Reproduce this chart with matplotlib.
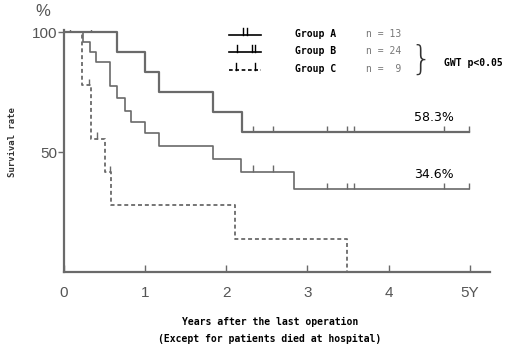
import matplotlib.pyplot as plt

# survival curves (years, %)
a_years = [0, 0.65, 1.0, 1.17, 1.84, 2.19, 4.99]
a_surv = [100, 91.7, 83.3, 75.0, 66.7, 58.3, 58.3]
a_cens_x = [0.07, 0.33, 2.33, 2.58, 3.24, 3.49, 3.58, 4.68, 4.99]
a_cens_y = [100, 100, 58.3, 58.3, 58.3, 58.3, 58.3, 58.3, 58.3]

b_years = [0, 0.24, 0.32, 0.40, 0.57, 0.65, 0.75, 0.83, 1.0, 1.17, 1.84, 2.18, 2.84, 4.99]
b_surv = [100, 95.8, 91.7, 87.5, 77.5, 72.5, 67.0, 62.5, 58.0, 52.5, 47.0, 41.8, 34.6, 34.6]
b_cens_x = [2.33, 2.58, 3.24, 3.49, 3.58, 4.68, 4.99]
b_cens_y = [41.8, 41.8, 34.6, 34.6, 34.6, 34.6, 34.6]

c_years = [0, 0.22, 0.33, 0.50, 0.58, 2.11, 3.49]
c_surv = [100, 77.8, 55.6, 41.7, 27.8, 13.9, 0]
c_cens_x = [0.31, 0.41, 0.57]
c_cens_y = [77.8, 55.6, 41.7]

groups = ["Group A", "Group B", "Group C"]
n_labels = ["n = 13", "n = 24", "n =  9"]
end_labels = ["58.3%", "34.6%"]

col = "#6a6a6a"
mono = "DejaVu Sans Mono"

fig = plt.figure(figsize=(5.15, 3.49), dpi=100)
ax = fig.add_axes([0.1243, 0.2206, 0.827, 0.693])

ax.step(a_years, a_surv, where="post", color=col, lw=1.6)
ax.step(b_years, b_surv, where="post", color=col, lw=1.2)
ax.step(c_years, c_surv, where="post", color=col, lw=1.3, ls=(0, (2.2, 1.6)))

ax.vlines(a_cens_x, a_cens_y, [v + 2.6 for v in a_cens_y], color=col, lw=1.0)
ax.vlines(b_cens_x, b_cens_y, [v + 2.6 for v in b_cens_y], color=col, lw=1.0)
ax.vlines(c_cens_x, c_cens_y, [v + 2.6 for v in c_cens_y], color=col, lw=1.0)

ax.set_xlim(0, 5.25)
ax.set_ylim(0, 100.8)
for s in ["top", "right"]:
    ax.spines[s].set_visible(False)
for s in ["left", "bottom"]:
    ax.spines[s].set_color(col)
    ax.spines[s].set_linewidth(1.6)

ax.set_xticks([0, 1, 2, 3, 4, 5])
ax.set_xticklabels(["0", "1", "2", "3", "4", "5Y"])
ax.set_yticks([50, 100])
ax.set_yticklabels(["50", "100"])
ax.tick_params(axis="x", direction="in", length=5, width=1, color=col,
               labelcolor="#555555", labelsize=11, pad=10)
ax.tick_params(axis="y", direction="out", length=4, width=1, color=col,
               labelcolor="#555555", labelsize=11, pad=1)
for lab in ax.get_xticklabels() + ax.get_yticklabels():
    lab.set_fontfamily("Liberation Sans")

fig.text(43 / 515, 1 - 12 / 349, "%", fontsize=12, color="#555555",
         ha="center", va="center", family="Liberation Sans")
fig.text(13 / 515, 1 - 142 / 349, "Survival rate", rotation=90, fontsize=6.5,
         fontweight="bold", family=mono, ha="center", va="center", color="#333333")

fig.text(270 / 515, 1 - 322 / 349, "Years after the last operation", fontsize=7,
         fontweight="bold", family=mono, ha="center", va="center")
fig.text(270 / 515, 1 - 339 / 349, "(Except for patients died at hospital)", fontsize=7,
         fontweight="bold", family=mono, ha="center", va="center")

# end-of-curve labels
ax.text((434 - 64) / 81.1, 64.2, end_labels[0], fontsize=9,
        ha="center", va="center", family="DejaVu Sans")
ax.text((434 - 64) / 81.1, 40.8, end_labels[1], fontsize=9,
        ha="center", va="center", family="DejaVu Sans")

# legend
def px(x, y):
    return (x - 64) / 426, (272 - y) / 242

leg_y = [35, 52, 70]
tick_sets = [[243, 247], [237, 252, 255], [236, 255]]
styles = ["-", "-", (0, (2.2, 1.6))]
for i in range(3):
    x0, y0 = px(229, leg_y[i])
    x1, _ = px(261, leg_y[i])
    ax.plot([x0, x1], [y0, y0], transform=ax.transAxes, color="black", lw=1.2,
            ls=styles[i], clip_on=False)
    for tx in tick_sets[i]:
        xt, _ = px(tx, 0)
        ax.plot([xt, xt], [y0, y0 + 7 / 242], transform=ax.transAxes,
                color="black", lw=1.0, clip_on=False)
    fig.text(295 / 515, 1 - (leg_y[i] - 1) / 349, groups[i], fontsize=7,
             fontweight="bold", family=mono, va="center", ha="left")
    fig.text(366 / 515, 1 - (leg_y[i] - 1) / 349, n_labels[i], fontsize=7,
             family=mono, va="center", ha="left", color="#777777")

fig.text(421 / 515, 1 - 60 / 349, "}", fontsize=24, family="DejaVu Sans",
         va="center", ha="center", color="#333333", fontweight="light")
fig.text(444 / 515, 1 - 63 / 349, "GWT p<0.05", fontsize=7,
         fontweight="bold", family=mono, va="center", ha="left")

fig.savefig("out.png", dpi=100)
